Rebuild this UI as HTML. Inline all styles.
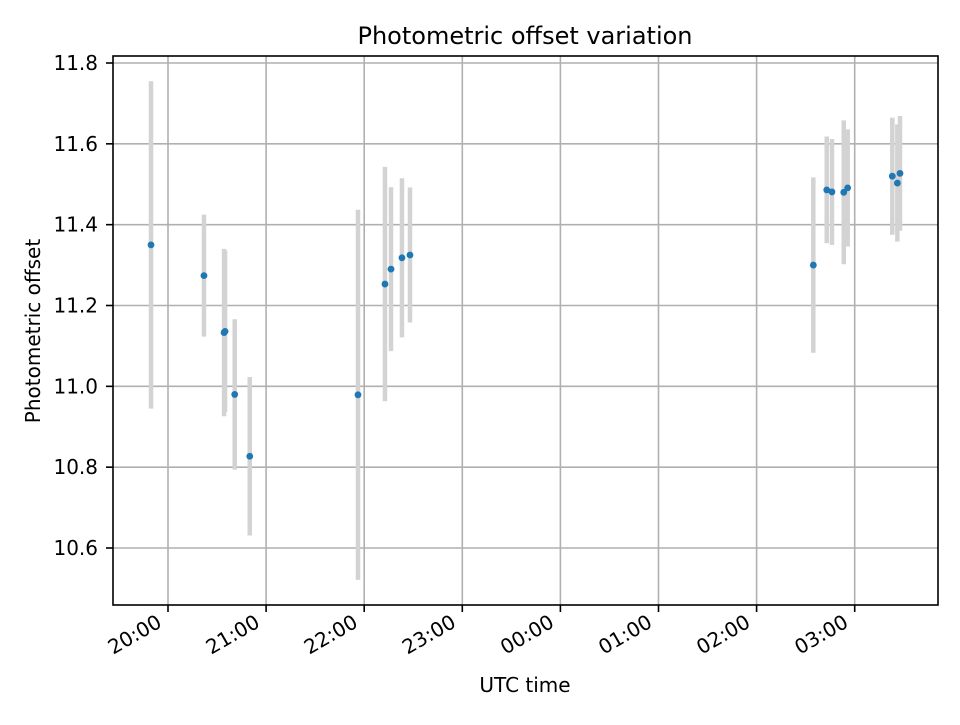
<!DOCTYPE html>
<html><head><meta charset="utf-8"><style>body{margin:0;background:#fff}svg{font-family:"DejaVu Sans","Liberation Sans",sans-serif}</style></head>
<body>
<svg id="c" width="960" height="720"></svg>
<script>
const minutesFrom2000=[-10.4,22.0,34.3,34.9,40.8,50.0,116.2,132.7,136.4,143.1,148.0,394.7,402.9,406.1,413.3,415.7,443.0,446.1,447.7];
const offsetValues=[11.350,11.274,11.133,11.136,10.980,10.827,10.979,11.253,11.290,11.318,11.325,11.300,11.486,11.481,11.480,11.491,11.520,11.503,11.527];
const offsetErrors=[0.405,0.151,0.207,0.200,0.186,0.196,0.458,0.290,0.203,0.197,0.167,0.217,0.132,0.131,0.178,0.145,0.145,0.145,0.142];
const yTicks=[10.6,10.8,11.0,11.2,11.4,11.6,11.8];
const xTickLabels=["20:00","21:00","22:00","23:00","00:00","01:00","02:00","03:00"];
const xTickMinutes=[0,60,120,180,240,300,360,420];
const L=113,R=938,T=56,B=605;
const X=m=>168+m*98.1/60;
const Y=v=>63+(11.8-v)*404.17;
const s=document.getElementById('c');const NS='http://www.w3.org/2000/svg';
function el(t,a,p){const e=document.createElementNS(NS,t);for(const k in a)e.setAttribute(k,a[k]);(p||s).appendChild(e);return e;}
const g=el('g',{});
xTickMinutes.forEach((m,i)=>{const x=X(m);
 el('line',{x1:x,x2:x,y1:T,y2:B,stroke:'#b0b0b0','stroke-width':1.6},g);
 el('line',{x1:x,x2:x,y1:B,y2:B+7,stroke:'#000','stroke-width':1.6});
 const tx=x-5,ty=B+21;
 const t=el('text',{x:tx,y:ty,'font-size':20,'text-anchor':'end',transform:`rotate(-30 ${tx} ${ty})`});
 t.textContent=xTickLabels[i];});
yTicks.forEach(v=>{const y=Y(v);
 el('line',{x1:L,x2:R,y1:y,y2:y,stroke:'#b0b0b0','stroke-width':1.6},g);
 el('line',{x1:L-7,x2:L,y1:y,y2:y,stroke:'#000','stroke-width':1.6});
 const t=el('text',{x:L-15,y:y+7,'font-size':20,'text-anchor':'end'});
 t.textContent=v.toFixed(1);});
const eb=el('g',{});
const pts=el('g',{});
minutesFrom2000.forEach((m,i)=>{const x=X(m),v=offsetValues[i],e=offsetErrors[i];
 const b=el('line',{x1:x,x2:x,y1:Y(v+e),y2:Y(v-e),stroke:'#d3d3d3','stroke-width':4.5},eb);
 });
minutesFrom2000.forEach((m,i)=>{const c=el('circle',{cx:X(m),cy:Y(offsetValues[i]),r:3.4,fill:'#1f77b4'},pts);
 });
const f=el('rect',{x:L,y:T,width:R-L,height:B-T,fill:'none',stroke:'#000','stroke-width':1.6});

let t=el('text',{x:525,y:44,'font-size':24,'text-anchor':'middle'});t.textContent='Photometric offset variation';

t=el('text',{x:525,y:692,'font-size':20,'text-anchor':'middle'});t.textContent='UTC time';

t=el('text',{x:40,y:331,'font-size':20,'text-anchor':'middle',transform:'rotate(-90 40 331)'});t.textContent='Photometric offset';

</script>
</body></html>
